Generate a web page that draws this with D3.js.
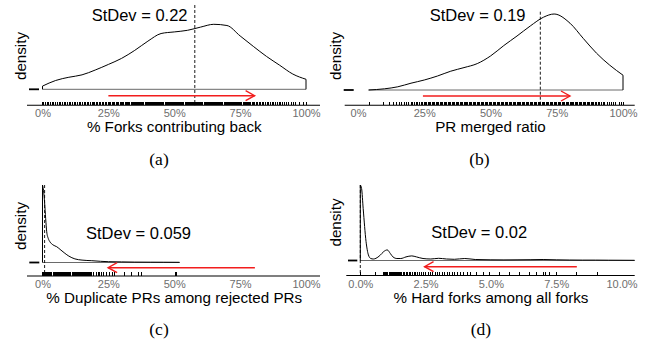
<!DOCTYPE html>
<html><head><meta charset="utf-8">
<script src="https://cdn.jsdelivr.net/npm/d3@7"></script>
<style>body{margin:0;background:#fff}svg{display:block}</style>
</head><body>
<svg id="chart" width="646" height="341"></svg>
<script>
// ---------- DATA (x values in percent) ----------
const panelTags = ["(a)", "(b)", "(c)", "(d)"];
const xTitles = ["% Forks contributing back", "PR merged ratio", "% Duplicate PRs among rejected PRs", "% Hard forks among all forks"];
const stdevLabels = ["StDev = 0.22", "StDev = 0.19", "StDev = 0.059", "StDev = 0.02"];
const xDomains = [[0, 100], [0, 100], [0, 100], [0, 10]];
const tickValsPct = [0, 25, 50, 75, 100];
const tickValsSmall = [0, 2.5, 5, 7.5, 10];
const meanValues = [57.8, 68.8, 0.8, 0.0];
const arrowFromTo = [[25, 80.5], [24.5, 80], [80.6, 24.9], [8.29, 2.46]];

const densXA = [0,5,10,15,20,25,30,35,40,45,50,55,60,65,70,75,80,85,90,95,100];
const densYA = [0.08,0.22,0.30,0.36,0.48,0.62,0.77,0.97,1.20,1.39,1.43,1.47,1.55,1.62,1.59,1.33,1.07,0.82,0.60,0.38,0.25];

const densXB = [4,10,15,20,25,30,35,40,45,50,55,60,65,70,74,80,85,90,95,100];
const densYB = [0,0.03,0.08,0.17,0.25,0.35,0.47,0.56,0.66,0.85,1.11,1.35,1.60,1.82,1.90,1.67,1.29,0.92,0.62,0.37];

const densXC = [0,0.4,0.8,1.2,1.6,2.2,2.8,4,5.4,7,8.5,10,12.3,15,18.7,22,25,30,35,41,46,52];
const densYC = [19.4,18,15,11,7.7,6,5.2,4.4,3.95,3.1,2.3,1.6,0.9,0.6,0.45,0.3,0.2,0.15,0.1,0.08,0.07,0.05];

const densXD = [0,0.05,0.11,0.22,0.31,0.4,0.5,0.6,0.75,0.9,1.03,1.15,1.25,1.4,1.55,1.75,1.97,2.15,2.4,2.7,3.0,3.3,3.6,4.0,4.4,5.0,5.5,6.0,6.5,7.0,7.5,8.0,8.5,9.0,9.5,10.5];
const densYD = [37.8,36,26,9.5,2.8,1,0.75,1.1,2.5,4.5,5.3,3.5,1.8,1,1,1.8,2.3,1.8,1,0.75,1.1,0.75,0.6,1,0.5,0.35,0.3,0.35,0.4,0.5,0.35,0.25,0.2,0.2,0.15,0.1];

const rugA = [0,0.4,1.1,1.8,2.4,3.1,3.7,4.3,5,5.7,6.3,7,7.6,8.3,8.9,9.6,10.2,10.8,11.5,12.1,12.7,13.3,14,14.6,15.2,15.8,16.4,17,17.6,18.2,18.8,19.3,19.9,20.5,21,21.6,22.2,22.7,23.3,23.8,24.4,24.9,25.4,25.9,26.5,27,27.5,28,28.5,29,29.5,30,30.5,30.9,31.4,31.9,32.3,32.8,33.2,33.7,34.1,34.5,34.9,35.3,35.7,36.1,36.5,36.9,37.3,37.7,38.1,38.5,38.9,39.3,39.7,40.1,40.5,40.9,41.3,41.7,42.1,42.5,42.9,43.3,43.7,44.1,44.5,44.9,45.3,45.7,46.1,46.5,46.9,47.3,47.7,48.1,48.5,48.9,49.3,49.7,50.1,50.5,50.9,51.3,51.7,52.1,52.5,52.9,53.3,53.7,54.1,54.5,54.9,55.3,55.7,56.1,56.5,56.9,57.3,57.7,58.1,58.5,58.9,59.3,59.7,60.1,60.5,60.9,61.3,61.7,62.1,62.5,62.9,63.3,63.7,64.1,64.5,64.9,65.3,65.7,66.1,66.5,66.9,67.3,67.7,68.1,68.5,68.9,69.3,69.7,70.1,70.5,70.9,71.3,71.7,72.1,72.5,72.9,73.3,73.7,74.1,74.5,74.9,75.3,75.7,76.1,76.5,76.9,77.3,77.7,78.1,78.6,79.1,79.6,80.1,80.6,81.1,81.6,82.2,82.8,83.4,84,84.6,85.2,85.8,86.4,87.1,87.8,88.4,89.1,89.8,90.5,91.2,91.9,92.7,93.5,94.4,95.3,96.2,97.5,99,100];

const rugB = [4.5,9.5,12,13.3,14.5,15.6,16.6,17.5,18.4,19.2,20,20.7,21.4,22,22.6,23.2,23.8,24.4,25,25.5,26,26.5,27,27.5,28,28.5,29,29.5,30,30.5,31,31.5,32,32.5,33,33.5,34,34.5,35,35.5,36,36.5,37,37.5,38,38.5,39,39.5,40,40.5,41,41.5,42,42.5,43,43.5,44,44.5,45,45.5,46,46.5,47,47.5,48,48.5,49,49.5,50,50.5,51,51.5,52,52.5,53,53.5,54,54.5,55,55.5,56,56.5,57,57.5,58,58.5,59,59.5,60,60.5,61,61.5,62,62.5,63,63.5,64,64.5,65,65.5,66,66.5,67,67.5,68,68.5,69,69.5,70,70.5,71,71.5,72,72.5,73,73.5,74,74.5,75,75.5,76,76.5,77,77.5,78,78.5,79,79.5,80,80.5,81,81.5,82,82.5,83,83.5,84,84.5,85,85.5,86,86.5,87,87.5,88,88.5,89,89.5,90,90.6,91.2,91.8,92.5,93.2,94,94.8,95.5,96.3,97.2,98.5,99.6,100];

const rugC = [0,0.4,0.8,1.2,1.6,2,2.4,2.8,3.2,3.6,4,4.4,4.8,5.2,5.6,6,6.4,6.8,7.2,7.6,8,8.4,8.8,9.2,9.6,10,10.4,10.8,11.2,11.6,12,12.4,12.8,13.2,13.6,14,14.4,14.8,15.2,15.6,16,16.4,16.8,17.2,17.6,18,18.4,18.7,19.3,20.6,21.2,21.8,22.5,23.1,24.4,25.6,26.4,27.5,31.3,33.6,36.4,37.4,50.3,50.9];

const rugD = [0,0.57,0.88,0.93,0.98,1.02,1.06,1.1,1.13,1.17,1.2,1.24,1.28,1.31,1.35,1.39,1.42,1.46,1.5,1.54,1.58,1.64,1.7,1.76,1.82,1.88,1.94,2.0,2.06,2.13,2.2,2.27,2.34,2.42,2.5,2.6,2.68,2.77,2.86,2.95,3.05,3.14,3.22,3.32,3.42,3.52,3.62,3.73,3.85,3.97,4.1,4.22,4.44,4.7,4.95,5.33,5.72,6.1,6.48,6.74,7.0,7.1,7.25,7.5,8.27,9.1];

// ---------- LAYOUT ----------
const layout = [
  {x0:42.5, x1:306, base:89.3, peakY:24.3, axisY:105.3, axL:27, axR:320, vTop:5, densX:25.5, densY:56, tk0:29, tk1:39, statX:91.7, statY:20.7, titleY:132, tagX:159, tagY:165, arrowY:95.7},
  {x0:358, x1:623, base:90, peakY:14, axisY:105.3, axL:344.7, axR:634.7, vTop:11.7, densX:340.5, densY:56, tk0:343.7, tk1:353.7, statX:429.7, statY:20.7, titleY:132, tagX:479.5, tagY:165, arrowY:96},
  {x0:42.5, x1:306, base:262.5, peakY:185, axisY:276, axL:27, axR:320, vTop:185, densX:25.5, densY:226, tk0:29.3, tk1:39.3, statX:86, statY:238.5, titleY:303, tagX:159, tagY:335, arrowY:267.7},
  {x0:360.3, x1:621.5, base:260.5, peakY:185, axisY:275.5, axL:346.3, axR:634.7, vTop:185, densX:341.3, densY:222.5, tk0:348, tk1:357.3, statX:431.3, statY:238.3, titleY:302.5, tagX:481, tagY:335, arrowY:266.7}
];

const densXs = [densXA, densXB, densXC, densXD];
const densYs = [densYA, densYB, densYC, densYD];
const rugs = [rugA, rugB, rugC, rugD];
const tickSets = [tickValsPct, tickValsPct, tickValsPct, tickValsSmall];
const formats = [d => d + "%", d => d + "%", d => d + "%", d => d3.format(".1f")(d) + "%"];

const svg = d3.select("#chart");
const SANS = "'Liberation Sans', Arial, Helvetica, sans-serif";

layout.forEach((L, i) => {
  const g = svg.append("g");
  const x = d3.scaleLinear().domain(xDomains[i]).range([L.x0, L.x1]);
  const dx = densXs[i], dy = densYs[i];
  const y = d3.scaleLinear().domain([0, d3.max(dy)]).range([L.base, L.peakY]);
  const pts = dx.map((v, k) => [v, dy[k]]);

  // density baseline
  g.append("line")
    .attr("x1", x(dx[0])).attr("x2", x(dx[dx.length - 1]))
    .attr("y1", L.base).attr("y2", L.base)
    .attr("stroke", "#6a6a6a").attr("stroke-width", 1);

  // density curve with vertical ends
  const line = d3.line().x(p => x(p[0])).y(p => y(p[1])).curve(d3.curveMonotoneX);
  const mid = line(pts).replace(/^M/, "L");
  const path = "M" + x(dx[0]) + "," + L.base + mid + "L" + x(dx[dx.length - 1]) + "," + L.base;
  g.append("path").attr("d", path).attr("fill", "none")
    .attr("stroke", "#000").attr("stroke-width", 1);

  // axis line
  g.append("line").attr("x1", L.axL).attr("x2", L.axR)
    .attr("y1", L.axisY).attr("y2", L.axisY)
    .attr("stroke", "#000").attr("stroke-width", 1.1);

  // rug
  g.append("g").attr("shape-rendering", "crispEdges")
    .selectAll("line").data(rugs[i]).join("line")
    .attr("x1", d => x(d)).attr("x2", d => x(d))
    .attr("y1", L.axisY - 3.6).attr("y2", L.axisY)
    .attr("stroke", "#000").attr("stroke-width", 1);

  // axis tick labels
  const ax = g.append("g").attr("transform", `translate(0,${L.axisY})`)
    .call(d3.axisBottom(x).tickValues(tickSets[i]).tickSize(0).tickPadding(4.3).tickFormat(formats[i]));
  ax.select(".domain").remove();
  ax.selectAll("text").attr("font-family", SANS).attr("font-size", "11px").attr("fill", "#6e6e6e");

  // mean dashed line
  g.append("line").attr("x1", x(meanValues[i])).attr("x2", x(meanValues[i]))
    .attr("y1", L.vTop).attr("y2", L.axisY)
    .attr("stroke", "#000").attr("stroke-width", 0.9).attr("stroke-dasharray", "3,2");

  // red arrow
  const [a0, a1] = arrowFromTo[i];
  const xa0 = x(a0), xa1 = x(a1), dir = Math.sign(xa1 - xa0);
  const ag = g.append("g").attr("stroke", "#f21d1d").attr("stroke-width", 1.4).attr("fill", "none");
  ag.append("line").attr("x1", xa0).attr("x2", xa1).attr("y1", L.arrowY).attr("y2", L.arrowY);
  ag.append("path").attr("d", `M${xa1 - dir * 9},${L.arrowY - 5}L${xa1},${L.arrowY}L${xa1 - dir * 9},${L.arrowY + 5}`);

  // y-axis zero tick
  g.append("line").attr("x1", L.tk0).attr("x2", L.tk1).attr("y1", L.base).attr("y2", L.base)
    .attr("stroke", "#000").attr("stroke-width", 1.8);

  // "density" label
  g.append("text").attr("transform", `translate(${L.densX},${L.densY}) rotate(-90)`)
    .attr("text-anchor", "middle").attr("font-family", SANS).attr("font-size", "15.2px")
    .attr("fill", "#000").text("density");

  // StDev label
  g.append("text").attr("x", L.statX).attr("y", L.statY)
    .attr("font-family", SANS).attr("font-size", "16.5px").attr("fill", "#000")
    .text(stdevLabels[i]);

  // x title
  g.append("text").attr("x", (L.x0 + L.x1) / 2).attr("y", L.titleY)
    .attr("text-anchor", "middle").attr("font-family", SANS).attr("font-size", "15.2px")
    .attr("fill", "#000").text(xTitles[i]);

  // panel tag
  g.append("text").attr("x", L.tagX).attr("y", L.tagY)
    .attr("text-anchor", "middle").attr("font-family", "'Liberation Serif', 'Times New Roman', serif")
    .attr("font-size", "17.5px").attr("fill", "#000").text(panelTags[i]);
});
</script>
</body></html>
